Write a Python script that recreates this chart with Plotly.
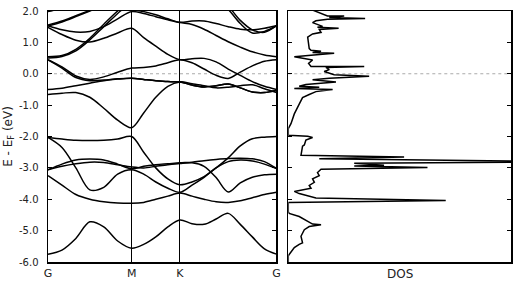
import plotly.graph_objects as go

# k-path positions (G - M - K - G)
k_path = [0.0, 0.167, 0.333, 0.5, 0.667, 0.833, 1.0,
          1.144, 1.289, 1.433, 1.577,
          1.722, 1.866, 2.010, 2.155, 2.299, 2.443, 2.588, 2.732]
k_ticks = [0.0, 1.0, 1.577, 2.732]
k_labels = ["G", "M", "K", "G"]

# band energies (eV) at the k_path points
band_01 = [-5.75, -5.62, -5.25, -4.72, -4.88, -5.33, -5.56, -5.44, -5.2, -4.88, -4.66, -4.78, -4.8, -4.63, -4.45, -4.8, -5.2, -5.58, -5.75]
band_02 = [-3.25, -3.55, -3.85, -4.0, -4.08, -4.12, -4.13, -4.1, -4.0, -3.9, -3.8, -3.9, -4.0, -4.08, -4.1, -4.05, -3.95, -3.85, -3.78]
band_03 = [-2.03, -2.35, -3.0, -3.7, -3.62, -3.2, -3.06, -3.2, -3.45, -3.65, -3.78, -3.55, -3.3, -3.0, -2.8, -2.75, -2.78, -2.88, -3.02]
band_04 = [-2.03, -2.08, -2.12, -2.13, -2.12, -2.08, -2.0, -2.5, -3.0, -3.35, -3.54, -3.45, -3.28, -3.0, -2.68, -2.3, -2.07, -2.02, -2.0]
band_05 = [-3.06, -2.95, -2.87, -2.82, -2.83, -2.9, -2.97, -3.0, -2.95, -2.9, -2.86, -2.84, -2.95, -3.31, -3.77, -3.48, -3.3, -3.22, -3.2]
band_06 = [-3.06, -2.88, -2.75, -2.72, -2.75, -2.88, -3.03, -2.95, -2.9, -2.87, -2.84, -2.82, -2.77, -2.73, -2.7, -2.69, -2.71, -2.8, -3.02]
band_07 = [-0.66, -0.62, -0.6, -0.75, -1.1, -1.48, -1.72, -1.25, -0.75, -0.4, -0.26, -0.32, -0.38, -0.45, -0.43, -0.38, -0.35, -0.48, -0.6]
band_08 = [-0.5, -0.46, -0.38, -0.3, -0.22, -0.17, -0.14, -0.18, -0.22, -0.25, -0.26, -0.36, -0.42, -0.38, -0.33, -0.45, -0.58, -0.6, -0.53]
band_09 = [0.45, 0.22, -0.07, -0.18, -0.1, 0.05, 0.18, 0.2, 0.25, 0.35, 0.45, 0.35, 0.15, -0.05, -0.15, 0.05, 0.25, 0.4, 0.45]
band_10 = [0.44, 0.18, -0.12, -0.22, -0.2, -0.16, -0.14, -0.18, -0.22, -0.25, -0.26, -0.36, -0.42, -0.38, -0.33, -0.45, -0.58, -0.6, -0.53]
band_11 = [1.48, 1.25, 1.07, 1.01, 1.13, 1.3, 1.45, 1.15, 0.88, 0.62, 0.45, 0.48, 0.49, 0.38, 0.15, -0.05, -0.25, -0.4, -0.5]
band_12 = [0.54, 0.58, 0.78, 1.13, 1.58, 2.0, 2.35, 2.5, 2.5, 2.5, 2.5, 2.5, 2.45, 2.35, 2.05, 1.6, 1.3, 1.35, 1.53]
band_13 = [0.5, 0.55, 0.73, 1.08, 1.5, 1.92, 2.3, 2.5, 2.5, 2.5, 2.5, 2.5, 2.5, 2.45, 2.15, 1.7, 1.4, 1.32, 1.53]
band_14 = [1.53, 1.4, 1.33, 1.35, 1.5, 1.75, 1.98, 1.92, 1.82, 1.72, 1.63, 1.57, 1.42, 1.22, 1.02, 0.85, 0.7, 0.6, 0.54]
band_15 = [1.98, 2.1, 2.3, 2.4, 2.4, 2.25, 2.05, 1.98, 1.88, 1.75, 1.64, 1.68, 1.68, 1.6, 1.5, 1.42, 1.4, 1.45, 1.53]
band_16 = [1.55, 1.68, 1.85, 2.02, 2.2, 2.35, 2.4, 2.45, 2.5, 2.5, 2.5, 2.5, 2.5, 2.5, 2.5, 2.5, 2.5, 2.5, 2.5]
band_17 = [1.52, 1.65, 1.82, 2.0, 2.18, 2.35, 2.4, 2.45, 2.5, 2.5, 2.5, 2.5, 2.5, 2.5, 2.5, 2.5, 2.5, 2.5, 2.5]

bands = [band_01, band_02, band_03, band_04, band_05, band_06, band_07, band_08,
         band_09, band_10, band_11, band_12, band_13, band_14, band_15, band_16, band_17]

# density of states (energy, value)
dos_energy = [2.05, 1.90, 1.84, 1.84, 1.79, 1.76, 1.74, 1.69, 1.63, 1.51, 1.48, 1.45, 1.41, 1.32, 1.27, 1.17,
              0.80, 0.75, 0.72, 0.68, 0.65, 0.59, 0.54, 0.44, 0.33, 0.23, 0.23, 0.20, 0.13, 0.07, -0.03, -0.08,
              -0.14, -0.19, -0.26, -0.34, -0.40, -0.43, -0.47, -0.50, -0.57, -0.66, -0.76, -0.97, -1.28, -1.59,
              -1.75, -1.96, -1.99, -2.03, -2.11, -2.27, -2.31, -2.60, -2.65, -2.71, -2.80, -2.81, -2.85, -2.92,
              -2.94, -2.99, -3.04, -3.15, -3.25, -3.35, -3.46, -3.56, -3.65, -3.75, -3.82, -3.96, -4.04, -4.08,
              -4.10, -4.40, -4.45, -4.55, -4.71, -4.79, -4.81, -4.87, -4.97, -5.18, -5.39, -5.44, -5.54, -5.70,
              -5.75, -5.80, -6.0]
dos_value = [0.102, 0.154, 0.176, 0.251, 0.184, 0.345, 0.176, 0.124, 0.109, 0.154, 0.131, 0.226, 0.139, 0.147, 0.109, 0.087,
             0.094, 0.102, 0.147, 0.109, 0.206, 0.102, 0.027, 0.109, 0.091, 0.102, 0.341, 0.169, 0.184, 0.161, 0.206, 0.363,
             0.184, 0.109, 0.214, 0.079, 0.049, 0.139, 0.027, 0.199, 0.124, 0.094, 0.064, 0.049, 0.027, 0.012,
             0.0, 0.0, 0.087, 0.109, 0.079, 0.072, 0.064, 0.057, 0.52, 0.139, 1.3, 1.3, 0.296, 0.43,
             0.296, 0.625, 0.147, 0.131, 0.139, 0.109, 0.117, 0.094, 0.102, 0.027, 0.049, 0.124, 0.707, 0.318,
             0.0, 0.0, 0.004, 0.049, 0.094, 0.109, 0.147, 0.094, 0.072, 0.057, 0.064, 0.049, 0.027, 0.012,
             0.004, 0.0, 0.0]

e_ticks = [-6, -5, -4, -3, -2, -1, 0, 1, 2]
e_labels = ["-6.0", "-5.0", "-4.0", "-3.0", "-2.0", "-1.0", "0.0", "1.0", "2.0"]

fig = go.Figure()
for b in bands:
    fig.add_trace(go.Scatter(x=k_path, y=b, mode="lines", xaxis="x", yaxis="y",
                             line=dict(color="black", width=1.5, shape="spline", smoothing=0.9),
                             hoverinfo="skip", showlegend=False))
fig.add_trace(go.Scatter(x=dos_value, y=dos_energy, mode="lines", xaxis="x2", yaxis="y2",
                         line=dict(color="black", width=1.5), hoverinfo="skip", showlegend=False))

tick_font = dict(family="DejaVu Sans", size=10, color="#222")
axis_common = dict(showline=True, linecolor="black", linewidth=1.5, zeroline=False)

fig.update_layout(
    width=520, height=286,
    margin=dict(l=48, r=8, t=5, b=24),
    paper_bgcolor="white", plot_bgcolor="white",
    font=dict(family="DejaVu Sans", color="#222"),
    xaxis=dict(domain=[0, 0.4935], range=[0, 2.732], tickmode="array", tickvals=k_ticks,
               ticktext=k_labels, ticks="", showgrid=True, gridcolor="black", gridwidth=1,
               mirror=True, tickfont=dict(family="DejaVu Sans", size=11, color="#222"),
               **axis_common),
    yaxis=dict(domain=[0, 1], range=[-6, 2], tickmode="array", tickvals=e_ticks, ticktext=e_labels,
               ticks="inside", ticklen=4, tickcolor="black", mirror="ticks", showgrid=False,
               tickfont=tick_font, ticklabelstandoff=6,
               title=dict(text="E - E<sub>F</sub> (eV)", font=dict(family="DejaVu Sans", size=12, color="#222"),
                          standoff=4),
               **axis_common),
    xaxis2=dict(domain=[0.519, 1.0], range=[0, 1], anchor="y2", showticklabels=False, ticks="",
                showgrid=False, mirror=True, **axis_common),
    yaxis2=dict(domain=[0, 1], range=[-6, 2], anchor="x2", tickmode="array", tickvals=e_ticks,
                ticks="inside", ticklen=4, tickcolor="black", mirror="ticks", showticklabels=False,
                showgrid=False, **axis_common),
    annotations=[dict(text="DOS", xref="x2 domain", x=0.5, yref="paper", y=0, yanchor="top",
                      yshift=-3, showarrow=False, font=dict(family="DejaVu Sans", size=12, color="#222"))],
    shapes=[dict(type="line", xref="x domain", x0=0, x1=1, yref="y", y0=0, y1=0, layer="below",
                 line=dict(color="#aaaaaa", width=1, dash="dot")),
            dict(type="line", xref="x2 domain", x0=0, x1=1, yref="y2", y0=0, y1=0, layer="below",
                 line=dict(color="#aaaaaa", width=1, dash="dot"))],
)

fig.write_html("out.html", config={"displayModeBar": False, "staticPlot": True},
               post_script="document.body.style.margin='0px';document.body.style.padding='0px';")
